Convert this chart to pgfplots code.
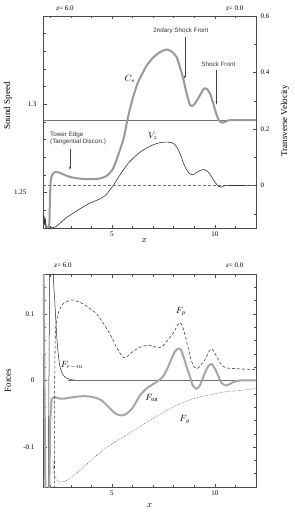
\documentclass[border=0pt]{standalone}
\usepackage{pgfplots}
\pgfplotsset{compat=1.18}
\usetikzlibrary{arrows.meta}
\usepackage{fontspec}
\setmainfont{Liberation Serif}
\setsansfont{Liberation Sans}
\begin{document}
\begin{tikzpicture}
\useasboundingbox (0pt,0pt) rectangle (294pt,-513pt);
\pgfplotsset{
 common/.style={scale only axis, width=213pt, xmin=1.65, xmax=12,
   clip mode=individual,
   axis line style={black!70, line width=0.5pt},
   every tick/.style={black!70, line width=0.4pt},
   major tick length=3.5pt, minor tick length=2.5pt, tick align=inside,
   tick label style={font=\fontsize{7}{8}\selectfont},
   /pgf/number format/assume math mode=true,
   label style={font=\fontsize{9}{10}\selectfont}},
}
\tikzset{
 ann/.style={font=\fontsize{6.3}{7}\sffamily, text=black!80, inner sep=0pt},
 arr/.style={black!75, line width=0.4pt, -{Stealth[length=3pt,width=2pt]}},
}
% ---------------- top panel: sound speed ----------------
\begin{axis}[common, height=212pt, at={(43pt,-228pt)}, anchor=south west,
 ymin=1.23, ymax=1.35,
 xtick={5,10}, minor xtick={2,3,4,6,7,8,9,11,12},
 ytick={1.3}, extra y ticks={1.25},
 extra y tick style={grid=none, yticklabel style={xshift=-10pt}},
 minor ytick={1.24,1.26,1.27,1.28,1.29,1.31,1.32,1.33,1.34},
 ytick pos=left, yticklabel style={xshift=-3pt},
 xlabel={$x$}, xlabel style={at={(axis description cs:0.475,-0.057)},anchor=center},
 ylabel={Sound Speed}, ylabel style={at={(axis description cs:-0.164,0.575)},anchor=center},
]
\addplot[black!55, line width=0.5pt] coordinates {(1.65,1.2911)(12,1.2911)};
\addplot[black!40, line width=2pt, smooth, tension=0.4] coordinates {
(1.65,1.2365)(1.70,1.2360)(1.75,1.2330)(1.82,1.2305)(1.90,1.2300)(1.96,1.2330)
(1.99,1.2480)(2.03,1.2570)(2.10,1.2603)(2.20,1.2615)(2.30,1.2617)(2.48,1.2612)
(2.70,1.2600)(2.96,1.2589)(3.45,1.2579)(3.93,1.2576)(4.42,1.2580)(4.76,1.2597)
(5.05,1.2635)(5.31,1.2715)(5.58,1.2812)(5.73,1.2900)(5.90,1.2985)(6.05,1.3050)
(6.25,1.3120)(6.45,1.3168)(6.70,1.3222)(7.00,1.3264)(7.30,1.3293)(7.55,1.3307)
(7.73,1.3309)(7.91,1.3298)(8.14,1.3268)(8.30,1.3212)(8.46,1.3147)(8.63,1.3061)
(8.79,1.2998)(8.93,1.2992)(9.11,1.3017)(9.27,1.3050)(9.47,1.3089)(9.61,1.3086)
(9.76,1.3063)(9.92,1.3006)(10.08,1.2943)(10.19,1.2911)(10.33,1.2896)(10.49,1.2900)
(10.63,1.2908)(10.87,1.2911)(12.0,1.2911)};
\node[ann, anchor=west, align=left] at (axis cs:1.99,1.2810) {Tower Edge\\(Tangential Discon.)};
\draw[arr] (axis cs:2.96,1.2749) -- (axis cs:2.96,1.2630);
\node[ann] at (axis cs:8.35,1.3418) {2ndary Shock Front};
\draw[arr] (axis cs:8.54,1.3379) -- (axis cs:8.54,1.3145);
\node[ann] at (axis cs:10.17,1.3229) {Shock Front};
\draw[arr] (axis cs:10.08,1.3195) -- (axis cs:10.08,1.3000);
\node[font=\fontsize{9}{10}\selectfont] at (axis cs:5.87,1.3145) {$C_s$};
\node[font=\fontsize{9}{10}\selectfont] at (axis cs:6.99,1.2822) {$V_z$};
\node[font=\fontsize{7}{8}\selectfont] at (axis cs:2.72,1.3545) {\itshape z\upshape= 6.0};
\node[font=\fontsize{7}{8}\selectfont] at (axis cs:10.97,1.3545) {\itshape z\upshape= 0.0};
\end{axis}
% ---------------- top panel: transverse velocity ----------------
\begin{axis}[common, height=212pt, at={(43pt,-228pt)}, anchor=south west,
 ymin=-0.15, ymax=0.6, xtick=\empty,
 ytick={0,0.2,0.4,0.6}, minor ytick={-0.1,0.1,0.3,0.5},
 ytick pos=right, yticklabel pos=right, yticklabel style={xshift=1pt},
 ylabel={Transverse Velocity}, ylabel style={at={(axis description cs:1.136,0.505)},anchor=center},
]
\addplot[black!55, line width=0.5pt, dash pattern=on 3pt off 2pt] coordinates {(1.65,0)(12,0)};
\addplot[black!80, line width=0.6pt, smooth, tension=0.4] coordinates {
(1.65,-0.110)(1.69,-0.105)(1.72,-0.135)(1.76,-0.118)(1.82,-0.160)(1.99,-0.149)
(2.15,-0.149)(2.28,-0.145)(2.48,-0.133)(2.77,-0.114)(3.12,-0.0975)(3.45,-0.082)
(3.93,-0.062)(4.42,-0.047)(4.71,-0.033)(4.90,-0.015)(5.06,0)(5.29,0.027)
(5.55,0.055)(5.78,0.078)(6.03,0.097)(6.36,0.118)(6.68,0.133)(6.99,0.144)
(7.33,0.152)(7.62,0.154)(7.90,0.152)(8.06,0.145)(8.20,0.130)(8.35,0.105)
(8.49,0.077)(8.64,0.055)(8.79,0.041)(8.93,0.038)(9.11,0.046)(9.27,0.053)
(9.47,0.057)(9.61,0.053)(9.76,0.041)(9.90,0.024)(10.05,0.008)(10.19,-0.003)
(10.34,-0.005)(10.53,0)(12,0)};
\end{axis}
% ---------------- bottom panel: forces ----------------
\begin{axis}[common, height=213pt, at={(43pt,-487pt)}, anchor=south west,
 ymin=-0.16, ymax=0.16,
 xtick={5,10}, minor xtick={2,3,4,6,7,8,9,11,12},
 ytick={-0.1,0,0.1},
 minor ytick={-0.14,-0.12,-0.08,-0.06,-0.04,-0.02,0.02,0.04,0.06,0.08,0.12,0.14},
 yticklabel style={xshift=-5pt},
 xlabel={$x$}, xlabel style={at={(axis description cs:0.5,-0.085)},anchor=center},
 ylabel={Forces}, ylabel style={at={(axis description cs:-0.164,0.5)},anchor=center},
]
% F_{r-m}
\addplot[black!85, line width=0.5pt] coordinates {(1.88,-0.3)(2.00,0.3)};
\addplot[black!85, line width=0.5pt, smooth, tension=0.5] coordinates {
(2.10,0.25)(2.15,0.159)(2.23,0.115)(2.32,0.065)(2.39,0.040)(2.48,0.020)
(2.64,0.0075)(2.88,0.0025)(3.20,0.0005)(3.45,0)(12,0)};
% F_tot
\addplot[black!35, line width=2pt] coordinates {(1.65,0.3)(1.72,0.0)(1.80,-0.3)};
\addplot[black!35, line width=2pt] coordinates {(1.90,-0.3)(2.00,-0.06)(2.07,-0.0274)};
\addplot[black!35, line width=2pt, smooth, tension=0.45] coordinates {
(2.07,-0.0274)(2.23,-0.025)(2.48,-0.0274)(2.72,-0.027)(3.12,-0.025)(3.61,-0.0235)
(4.09,-0.025)(4.50,-0.030)(4.90,-0.042)(5.19,-0.050)(5.47,-0.0525)(5.73,-0.0495)
(6.03,-0.040)(6.36,-0.0225)(6.68,-0.012)(6.94,-0.0067)(7.23,-0.0008)(7.48,0.006)
(7.67,0.0165)(7.86,0.030)(8.06,0.0435)(8.23,0.048)(8.35,0.046)(8.49,0.0345)
(8.64,0.0195)(8.79,0.006)(8.93,-0.0075)(9.11,-0.0125)(9.27,-0.0075)(9.43,0.0045)
(9.61,0.018)(9.76,0.024)(9.85,0.0247)(10.00,0.018)(10.16,0.0075)(10.33,-0.0037)
(10.57,-0.0075)(10.89,-0.0025)(11.21,0)(12,0)};
% F_p
\addplot[black!80, line width=0.55pt, dash pattern=on 3pt off 2pt, smooth, tension=0.45] coordinates {
(2.19,-0.20)(2.21,-0.12)(2.22,0.0)(2.25,0.07)(2.32,0.092)(2.45,0.106)(2.64,0.116)
(3.04,0.121)(3.30,0.119)(3.61,0.115)(3.93,0.108)(4.26,0.100)(4.56,0.087)
(4.90,0.070)(5.19,0.052)(5.39,0.041)(5.58,0.034)(5.78,0.037)(6.02,0.0435)
(6.36,0.050)(6.75,0.053)(6.99,0.052)(7.23,0.049)(7.48,0.052)(7.72,0.061)
(7.98,0.071)(8.15,0.081)(8.30,0.087)(8.42,0.082)(8.54,0.070)(8.69,0.051)
(8.83,0.033)(8.98,0.021)(9.13,0.018)(9.27,0.021)(9.51,0.031)(9.71,0.0435)
(9.84,0.0475)(9.98,0.042)(10.15,0.0325)(10.34,0.0225)(10.53,0.019)(11.21,0.0175)
(12.0,0.0165)};
% F_g
\addplot[black!75, line width=0.5pt, dash pattern=on 0.6pt off 1.1pt, smooth, tension=0.45] coordinates {
(2.13,-0.120)(2.18,-0.138)(2.23,-0.145)(2.33,-0.150)(2.48,-0.1525)(2.72,-0.1515)
(2.96,-0.1474)(3.29,-0.139)(3.61,-0.130)(3.93,-0.1215)(4.26,-0.1125)(4.58,-0.104)
(4.90,-0.0975)(5.23,-0.0907)(5.55,-0.085)(5.87,-0.0787)(6.20,-0.0724)(6.52,-0.066)
(6.84,-0.060)(7.33,-0.051)(7.65,-0.045)(7.98,-0.0397)(8.30,-0.035)(8.63,-0.031)
(8.95,-0.0274)(9.27,-0.0247)(9.60,-0.0225)(10.0,-0.020)(10.40,-0.0175)(10.81,-0.016)
(11.21,-0.015)(11.94,-0.0124)(12,-0.0122)};
\node[font=\fontsize{9}{10}\selectfont] at (axis cs:8.35,0.1035) {$F_p$};
\node[font=\fontsize{9}{10}\selectfont] at (axis cs:3.06,0.0225) {$F_{r-m}$};
\node[font=\fontsize{9}{10}\selectfont] at (axis cs:6.94,-0.0262) {$F_{\rm tot}$};
\node[font=\fontsize{9}{10}\selectfont] at (axis cs:8.54,-0.0592) {$F_g$};
\node[font=\fontsize{7}{8}\selectfont] at (axis cs:2.62,0.1725) {\itshape z\upshape= 6.0};
\node[font=\fontsize{7}{8}\selectfont] at (axis cs:10.97,0.1725) {\itshape z\upshape= 0.0};
\end{axis}
\end{tikzpicture}
\end{document}
